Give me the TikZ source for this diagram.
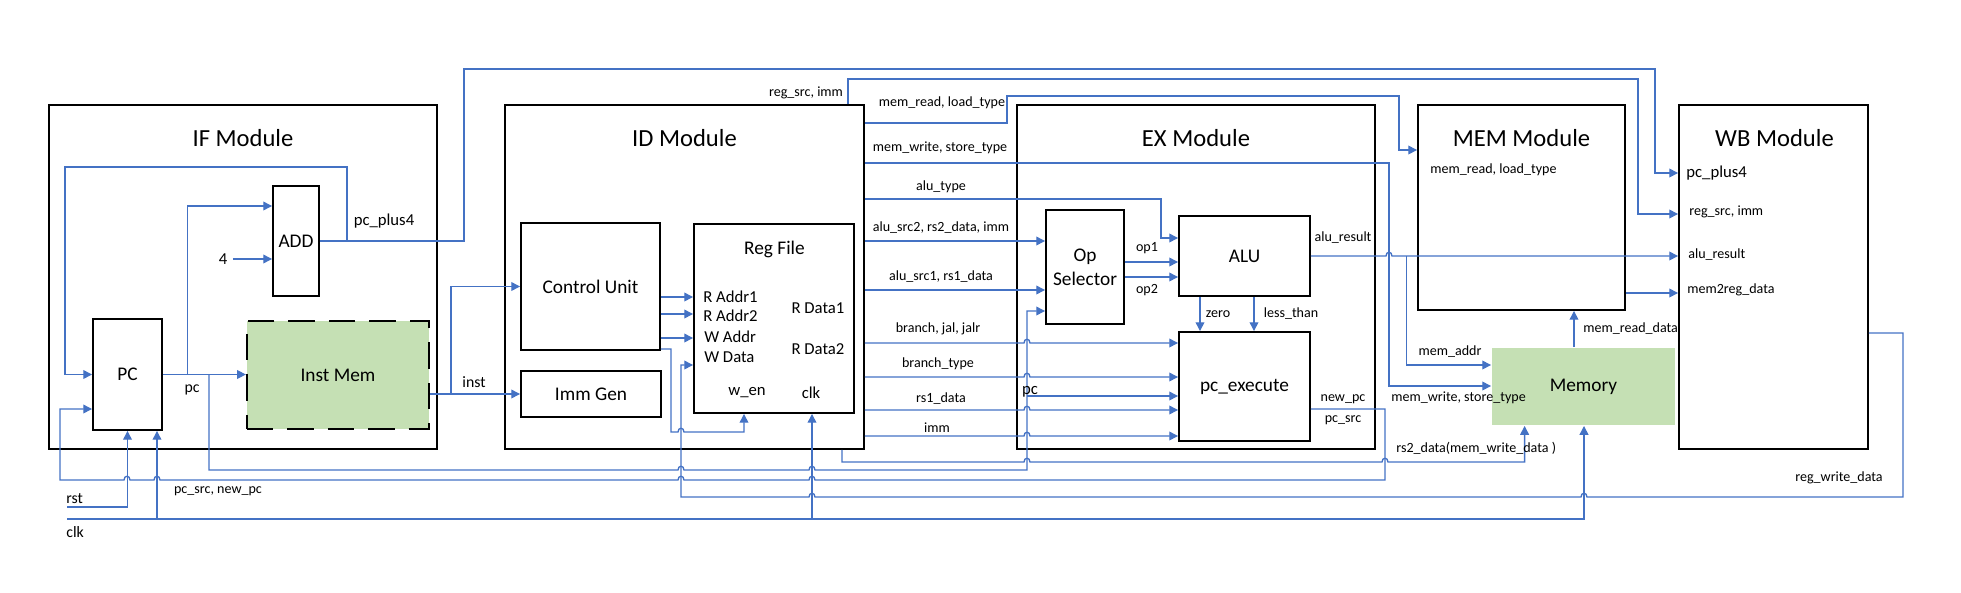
\documentclass[tikz,border=0pt]{standalone}
\usepackage{fontspec}
\setmainfont{Carlito}
\usetikzlibrary{arrows.meta, calc}

\definecolor{wireblue}{RGB}{68,114,196}
\definecolor{memgreen}{RGB}{197,224,180}

% bridge where a wire jumps over another one (r: going right, l: going left)
\newcommand{\hopr}[2]{-- ({#1-3},#2) .. controls ({#1-3},{#2-5}) and ({#1+3},{#2-5}) .. ({#1+3},#2)}
\newcommand{\hopl}[2]{-- ({#1+3},#2) .. controls ({#1+3},{#2-5}) and ({#1-3},{#2-5}) .. ({#1-3},#2)}

\begin{document}
\begin{tikzpicture}[x=0.02cm, y=-0.02cm, >={Triangle[length=5pt,width=5pt]}]

        % --- Styles ---
        \tikzstyle{module} = [rectangle, draw=black, line width=1.1pt, inner sep=0pt]
        \tikzstyle{block} = [rectangle, draw=black, line width=1.1pt, inner sep=0pt, align=center, font=\fontsize{11}{13.6}\selectfont]
        \tikzstyle{title} = [inner sep=0pt, font=\fontsize{14}{16}\selectfont]
        \tikzstyle{port} = [inner sep=0pt, font=\fontsize{9.5}{11}\selectfont]
        \tikzstyle{sigm} = [inner sep=0pt, font=\fontsize{9}{10}\selectfont]
        \tikzstyle{sig} = [inner sep=0pt, font=\fontsize{8}{9.6}\selectfont]
        \tikzstyle{wire} = [draw=wireblue, line width=0.75pt]

        \useasboundingbox (0,0) rectangle (1961,592);

        % --- Modules ---
        \node (ifm) [module, minimum width=7.76cm, minimum height=6.88cm] at (243,277) {};
        \node (idm) [module, minimum width=7.18cm, minimum height=6.88cm] at (684.5,277) {};
        \node (exm) [module, minimum width=7.16cm, minimum height=6.88cm] at (1196,277) {};
        \node (memm) [module, minimum width=4.14cm, minimum height=4.10cm] at (1521.5,207.5) {};
        \node (wbm) [module, minimum width=3.78cm, minimum height=6.88cm] at (1773.5,277) {};

        \node (iftitle) [title] at (243,138) {IF Module};
        \node (idtitle) [title] at (684.5,138) {ID Module};
        \node (extitle) [title] at (1196,138) {EX Module};
        \node (memtitle) [title] at (1521.5,138) {MEM Module};
        \node (wbtitle) [title] at (1774.5,138) {WB Module};

        % --- Blocks ---
        \node (add) [block, minimum width=0.92cm, minimum height=2.2cm] at (296,241) {ADD};
        \node (pcr) [block, minimum width=1.38cm, minimum height=2.22cm] at (127.5,374.5) {PC};
        \node (imem) [block, fill=memgreen, dash pattern=on 15pt off 8pt, line width=1.3pt, minimum width=3.64cm, minimum height=2.16cm] at (338,375) {Inst Mem};
        \node (ctrl) [block, minimum width=2.78cm, minimum height=2.54cm] at (590.5,286.5) {Control Unit};
        \node (immgen) [block, minimum width=2.8cm, minimum height=0.92cm] at (591,394) {Imm Gen};
        \node (regf) [block, minimum width=3.2cm, minimum height=3.78cm] at (774,318.5) {};
        \node (opsel) [block, minimum width=1.56cm, minimum height=2.28cm] at (1085,267) {Op\\Selector};
        \node (alu) [block, minimum width=2.62cm, minimum height=1.6cm] at (1244.5,256) {ALU};
        \node (pcexe) [block, minimum width=2.62cm, minimum height=2.18cm] at (1244.5,386.5) {pc\_execute};
        \node (dmem) [block, draw=none, fill=memgreen, minimum width=3.66cm, minimum height=1.54cm] at (1583.5,386.5) {Memory};

        % Reg File ports
        \node (regtitle) [inner sep=0pt, font=\fontsize{11}{13}\selectfont] at (774.5,249) {Reg File};
        \node (raddra) [port, anchor=west] at (703,297) {R Addr1};
        \node (raddrb) [port, anchor=west] at (703,316) {R Addr2};
        \node (waddr) [port, anchor=west] at (704,337) {W Addr};
        \node (wdata) [port, anchor=west] at (704,357) {W Data};
        \node (rdataa) [port] at (818,308) {R Data1};
        \node (rdatab) [port] at (818,349) {R Data2};
        \node (wen) [port] at (747,393) {w\_en};
        \node (rclk) [port] at (811,393) {clk};

        \coordinate (rstin) at (67,507);
        \coordinate (clkin) at (67,519);
        \coordinate (pctap) at (1027,396);

        % --- IF wires ---
        \draw[wire,->] (add.east) -| (464,69) -| (1655,173) -- (wbm.west |- 0,173);
        \draw[wire,->] (add.east -| 347,0) |- (65,167) |- (pcr.west);
        \draw[wire,->] (pcr.east) -- (imem.west |- pcr.east);
        \draw[wire,->] (pcr.east -| 187.5,0) |- (add.west |- 0,206);
        \draw[wire,->] (pcr.east -| 209,0) -- (209,470) \hopr{681}{470} \hopr{812}{470} -- (1027,470) -- (1027,311) -- (opsel.west |- 0,311);
        \draw[wire,->] (pctap) -- (pcexe.west |- pctap);
        \draw[wire,->] (rstin) -| (pcr.south);
        \draw[wire,->] (clkin) -| (dmem.south -| 1584,0);
        \draw[wire,->] (clkin -| 157,0) -- (pcr.south -| 157,0);
        \draw[wire,->] (clkin -| 812,0) -- (regf.south -| 812,0);

        % --- ID wires ---
        \draw[wire,->] (imem.east |- immgen.west) -- (immgen.west);
        \draw[wire,->] (immgen.west -| 451,0) |- (ctrl.west);
        \foreach \yy in {297,314,338}
            \draw[wire,->] (ctrl.east |- 0,\yy) -- (regf.west |- 0,\yy);
        \draw[wire,->] (ctrl.east |- 0,349) -| (671,432) \hopr{681}{432} -- (744,432) -- (regf.south -| 744,0);
        \draw[wire,->] (wbm.east |- 0,333) -| (1903,497) \hopl{1584}{497} \hopl{812}{497} -- (681,497) |- (regf.west |- 0,365);

        \draw[wire,->] (idm.north -| 848,0) |- (1638,79) |- (wbm.west |- 0,214);
        \draw[wire,->] (idm.east |- 0,123) -| (1007,96) -| (1399,150) -- (memm.west |- 0,150);
        \draw[wire,->] (idm.east |- 0,163) -| (1389,386) -- (dmem.west |- 0,386);
        \draw[wire,->] (idm.east |- 0,199) -| (1161,238) -- (alu.west |- 0,238);
        \draw[wire,->] (idm.east |- 0,241) -- (opsel.west |- 0,241);
        \draw[wire,->] (idm.east |- 0,290) -- (opsel.west |- 0,290);
        \foreach \yy in {343,377,410,436}
            \draw[wire,->] (idm.east |- 0,\yy) \hopr{1027}{\yy} -- (pcexe.west |- 0,\yy);
        \draw[wire,->] (idm.south -| 842,0) -- (842,462) \hopr{1027}{462} \hopr{1385}{462} -- (1524.6,462) -- (dmem.south -| 1524.6,0);

        % --- EX wires ---
        \draw[wire,->] (opsel.east |- 0,262) -- (alu.west |- 0,262);
        \draw[wire,->] (opsel.east |- 0,277) -- (alu.west |- 0,277);
        \draw[wire,->] (alu.south -| 1200,0) -- (pcexe.north -| 1200,0);
        \draw[wire,->] (alu.south -| 1254,0) -- (pcexe.north -| 1254,0);
        \draw[wire,->] (alu.east) \hopr{1389}{256} -- (wbm.west |- alu.east);
        \draw[wire,->] (alu.east -| 1406.5,0) |- (dmem.west |- 0,365);
        \draw[wire,->] (pcexe.east |- 0,409) -| (1385,480) \hopl{812}{480} \hopl{681}{480} \hopl{157}{480} \hopl{127}{480} -- (60,480) |- (pcr.west |- 0,409);

        % --- MEM wires ---
        \draw[wire,->] (dmem.north -| 1574,0) -- (memm.south -| 1574,0);
        \draw[wire,->] (memm.east |- 0,293) -- (wbm.west |- 0,293);

        % --- Labels ---
        \node (lplus) [port] at (384,221) {pc\_plus4};
        \node (lfour) [port] at (223,259) {4};
        \draw[wire,->] ([xshift=3pt]lfour.east) -- (add.west |- lfour.east);
        \node (lpc) [sigm] at (192,390) {pc};
        \node (linst) [sigm] at (474,382) {inst};
        \node (lrst) [sigm, anchor=west] at (66,499) {rst};
        \node (lclk) [sigm, anchor=west] at (66,532) {clk};
        \node (lpcsrc) [sig] at (218,491) {pc\_src, new\_pc};
        \node (lregsrc) [sig] at (806,93) {reg\_src, imm};

        \node (lmemread) [sig] at (942,103) {mem\_read, load\_type};
        \node (lmemwrite) [sig] at (940,148) {mem\_write, store\_type};
        \node (lalutype) [sig] at (941,187) {alu\_type};
        \node (lalusrcb) [sig] at (941,228) {alu\_src2, rs2\_data, imm};
        \node (lalusrca) [sig] at (941,277) {alu\_src1, rs1\_data};
        \node (lbranch) [sig] at (938,329) {branch, jal, jalr};
        \node (lbrtype) [sig] at (938,364) {branch\_type};
        \node (lrsone) [sig] at (941,399) {rs1\_data};
        \node (limm) [sig] at (937,428) {imm};

        \node (lopa) [sig] at (1147,248) {op1};
        \node (lopb) [sig] at (1147,290) {op2};
        \node (lzero) [sig] at (1218,314) {zero};
        \node (lless) [sig] at (1291,314) {less\_than};
        \node (lalures) [sig] at (1343,238) {alu\_result};
        \node (lpcex) [port] at (1030,392) {pc};
        \node (lnewpc) [sig] at (1343,399) {new\_pc};
        \node (lpcsrcb) [sig] at (1343,420) {pc\_src};

        \node (lmemrl) [sig, anchor=west] at (1430,170) {mem\_read, load\_type};
        \node (lmemaddr) [sig] at (1450,352) {mem\_addr};
        \node (lmemw) [sig, anchor=west] at (1391,398) {mem\_write, store\_type};
        \node (lrstwo) [sig, anchor=west] at (1396,448) {rs2\_data(mem\_write\_data )};
        \node (lmrd) [sig, anchor=west] at (1583,329) {mem\_read\_data};
        \node (lrwd) [sig] at (1839,478) {reg\_write\_data};

        \node (lwbplus) [port, anchor=west] at (1686,173) {pc\_plus4};
        \node (lwbreg) [sig, anchor=west] at (1689,212) {reg\_src, imm};
        \node (lwbalu) [sig, anchor=west] at (1688,255) {alu\_result};
        \node (lwbmr) [sig, anchor=west] at (1687,290) {mem2reg\_data};

\end{tikzpicture}
\end{document}
